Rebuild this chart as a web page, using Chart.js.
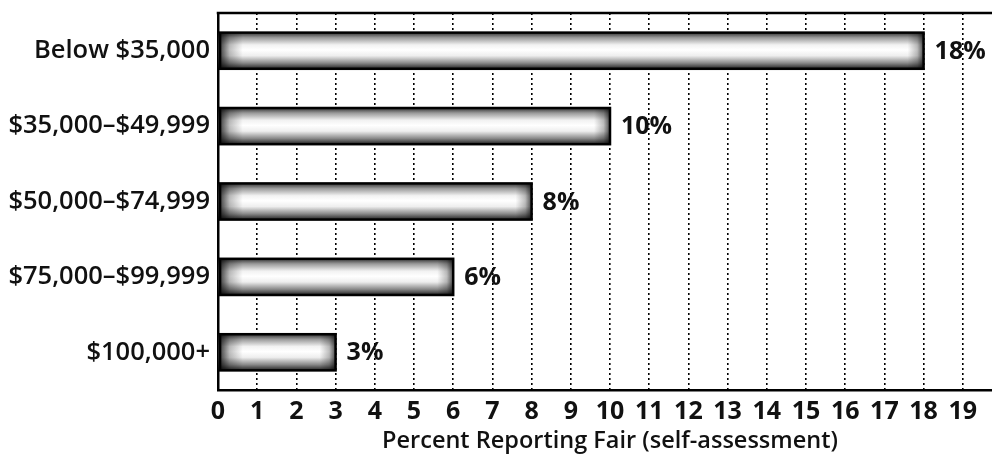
<!DOCTYPE html>
<html>
<head>
<meta charset="utf-8">
<script src="https://cdn.jsdelivr.net/npm/chart.js@4"></script>
<style>
  html, body { margin: 0; padding: 0; background: #fff; overflow: hidden; }
  #wrap { position: relative; width: 1010px; height: 465px; }
</style>
</head>
<body>
<div id="wrap"><canvas id="chart"></canvas></div>
<script>
// Income groups and share reporting "fair" health (self-assessment)
const incomeGroups = ['Below $35,000', '$35,000–$49,999', '$50,000–$74,999', '$75,000–$99,999', '$100,000+'];
const percentFair = [18, 10, 8, 6, 3];
const valueLabels = ['18%', '10%', '8%', '6%', '3%'];
const axisTitle = 'Percent Reporting Fair (self-assessment)';

const FONT = "'Open Sans', 'DejaVu Sans', sans-serif";

// Paint each bar as a shaded tube, outline it and write its value
const barFinish = {
  id: 'barFinish',
  afterDatasetsDraw(chart) {
    const ctx = chart.ctx;
    const meta = chart.getDatasetMeta(0);
    meta.data.forEach((el, i) => {
      const h = el.height;
      const top = el.y - h / 2;
      const left = el.base, right = el.x;
      const w = right - left;
      ctx.save();
      // vertical shading
      let g = ctx.createLinearGradient(0, top, 0, top + h);
      g.addColorStop(0.0, '#333333');
      g.addColorStop(0.14, '#9a9a9a');
      g.addColorStop(0.34, '#f2f2f2');
      g.addColorStop(0.48, '#ffffff');
      g.addColorStop(0.64, '#eeeeee');
      g.addColorStop(0.84, '#8a8a8a');
      g.addColorStop(1.0, '#222222');
      ctx.fillStyle = g;
      ctx.fillRect(left, top, w, h);
      // left end shading
      g = ctx.createLinearGradient(left, 0, left + 24, 0);
      g.addColorStop(0, 'rgba(0,0,0,0.8)');
      g.addColorStop(0.45, 'rgba(0,0,0,0.25)');
      g.addColorStop(1, 'rgba(0,0,0,0)');
      ctx.fillStyle = g;
      ctx.fillRect(left, top, 24, h);
      // right end shading
      g = ctx.createLinearGradient(right - 16, 0, right, 0);
      g.addColorStop(0, 'rgba(0,0,0,0)');
      g.addColorStop(0.6, 'rgba(0,0,0,0.25)');
      g.addColorStop(1, 'rgba(0,0,0,0.7)');
      ctx.fillStyle = g;
      ctx.fillRect(right - 16, top, 16, h);
      // outline
      ctx.lineWidth = 2.5;
      ctx.strokeStyle = '#000';
      ctx.strokeRect(left + 1.25, top, w - 1.25, h);
      // value label
      ctx.fillStyle = '#111';
      ctx.font = '700 25px ' + FONT;
      ctx.textAlign = 'left';
      ctx.textBaseline = 'middle';
      ctx.fillText(valueLabels[i], right + 11, el.y + 1);
      ctx.restore();
    });
  },
  // solid frame line along the top of the plot
  afterDraw(chart) {
    const { ctx, chartArea } = chart;
    ctx.save();
    ctx.strokeStyle = '#000';
    ctx.lineWidth = 2.5;
    ctx.beginPath();
    ctx.moveTo(chartArea.left - 1.25, chartArea.top);
    ctx.lineTo(chartArea.right + 10, chartArea.top);
    ctx.stroke();
    ctx.restore();
  }
};

new Chart(document.getElementById('chart'), {
  type: 'bar',
  data: {
    labels: incomeGroups,
    datasets: [{
      data: percentFair,
      backgroundColor: 'rgba(0,0,0,0)',
      borderWidth: 0,
      categoryPercentage: 1,
      barPercentage: 0.48
    }]
  },
  options: {
    indexAxis: 'y',
    responsive: true,
    maintainAspectRatio: false,
    animation: false,
    layout: { padding: { top: 13, right: 8, left: 0, bottom: 0 } },
    plugins: { legend: { display: false }, tooltip: { enabled: false } },
    scales: {
      x: {
        min: 0,
        max: 20,
        ticks: {
          stepSize: 1,
          color: '#111',
          padding: 7,
          font: { family: FONT, size: 25, weight: '700' },
          callback: (v) => (v >= 20 ? '' : v)
        },
        grid: {
          color: '#000',
          lineWidth: 1.6,
          drawTicks: false,
          tickLength: 0
        },
        // dotted vertical gridlines
        border: { display: true, color: '#000', width: 2.5, dash: [2, 3] },
        title: {
          display: true,
          text: axisTitle,
          color: '#111',
          font: { family: FONT, size: 23.5, weight: '600' },
          padding: { top: 1, bottom: 10 }
        },
        afterFit(scale) { scale.height = 75; }
      },
      y: {
        ticks: {
          color: '#111',
          padding: 8,
          font: { family: FONT, size: 25.5, weight: '600' }
        },
        grid: { display: false, drawTicks: false },
        border: { display: true, color: '#000', width: 2.5 },
        afterFit(scale) {
          scale.width = 218;
          // labels sit mid-category, so no extra room is needed above or below
          scale.paddingTop = 0;
          scale.paddingBottom = 0;
        }
      }
    }
  },
  plugins: [barFinish]
});
</script>
</body>
</html>
